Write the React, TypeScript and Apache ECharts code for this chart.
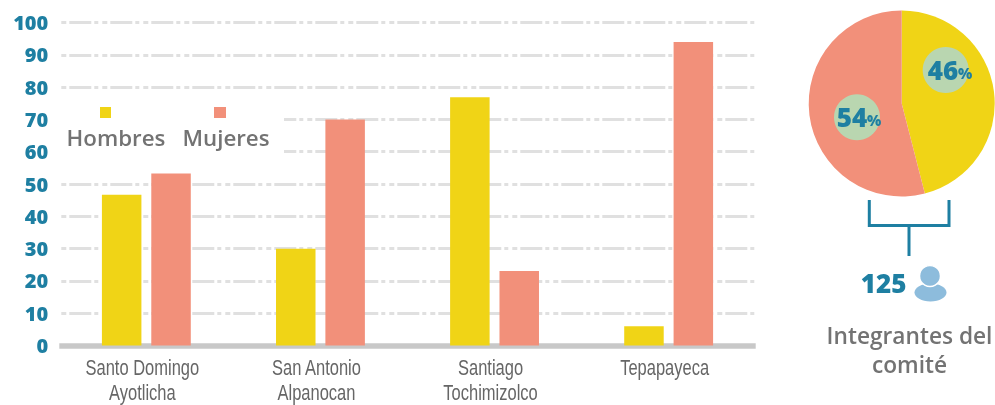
import React, { useEffect, useRef } from "react";
import * as echarts from "echarts";

const categories = ["Santo Domingo\nAyotlicha", "San Antonio\nAlpanocan", "Santiago\nTochimizolco", "Tepapayeca"];
const hombres = [46.7, 30, 76.9, 6];
const mujeres = [53.3, 70, 23.1, 94];
const pieShares = [46, 54];
const seriesNames = ["Hombres", "Mujeres"];
const total = "125";
const caption = ["Integrantes del", "comité"];

const YELLOW = "#f0d416";
const PINK = "#f2907a";
const TEAL = "#1e7fa2";
const GREY = "#737373";
const FONT = "'Open Sans', sans-serif";

export default function App() {
  const ref = useRef<HTMLDivElement>(null);
  useEffect(() => {
    const chart = echarts.init(ref.current!, undefined, { renderer: "svg" });
    const pctText = (v: number, x: number, y: number) => ({
      type: "text", x, y, z: 20,
      style: {
        text: `{a|${v}}{b|%}`, align: "center", verticalAlign: "middle",
        rich: {
          a: { fontFamily: FONT, fontSize: 26, fontWeight: 800, fill: TEAL, color: TEAL },
          b: { fontFamily: FONT, fontSize: 15, fontWeight: 800, fill: TEAL, color: TEAL, padding: [5, 0, 0, 0] },
        },
      },
    });
    const option: any = {
      animation: false,
      grid: { left: 59.3, right: 239.3, top: 22.5, bottom: 59.4, containLabel: false },
      xAxis: {
        type: "category", data: categories,
        axisTick: { show: false },
        axisLine: { lineStyle: { color: "#c8c8c8", width: 5.5, cap: "butt" } },
        axisLabel: { show: false },
      },
      yAxis: {
        type: "value", min: 0, max: 100, interval: 10,
        axisLine: { show: false }, axisTick: { show: false },
        axisLabel: { color: TEAL, fontFamily: FONT, fontWeight: 800, fontSize: 20, margin: 11 },
        splitLine: { lineStyle: { color: "#e0e0e0", width: 3, type: [5, 3, 22, 3, 4, 4], dashOffset: 39 } },
      },
      series: [
        { type: "bar", name: seriesNames[0], data: hombres, barWidth: 39.5, barGap: "25%", itemStyle: { color: YELLOW } },
        { type: "bar", name: seriesNames[1], data: mujeres, barWidth: 39.5, barGap: "25%", itemStyle: { color: PINK } },
        {
          type: "pie", center: [901.7, 103.5], radius: [0, 93], startAngle: 90, clockwise: true,
          silent: true, label: { show: false }, labelLine: { show: false },
          data: [
            { name: seriesNames[0], value: pieShares[0], itemStyle: { color: YELLOW } },
            { name: seriesNames[1], value: pieShares[1], itemStyle: { color: PINK } },
          ],
        },
      ],
      graphic: [
        { type: "rect", z: 1, shape: { x: 60, y: 100, width: 224, height: 60 }, style: { fill: "#fff" } },
        { type: "rect", z: 3, shape: { x: 100, y: 107, width: 11, height: 11 }, style: { fill: YELLOW } },
        { type: "rect", z: 3, shape: { x: 214, y: 107, width: 12, height: 11 }, style: { fill: PINK } },
        { type: "text", z: 3, x: 116, y: 137, style: { text: seriesNames[0], align: "center", verticalAlign: "middle", fontFamily: FONT, fontSize: 22.3, fontWeight: 600, fill: GREY } },
        { type: "text", z: 3, x: 226, y: 137, style: { text: seriesNames[1], align: "center", verticalAlign: "middle", fontFamily: FONT, fontSize: 22.3, fontWeight: 600, fill: GREY } },
        { type: "circle", z: 10, shape: { cx: 945.7, cy: 70, r: 23 }, style: { fill: "#b9d6b0" } },
        { type: "circle", z: 10, shape: { cx: 857, cy: 117.3, r: 23 }, style: { fill: "#b9d6b0" } },
        pctText(pieShares[0], 950, 70),
        pctText(pieShares[1], 859, 117),
        { type: "polyline", z: 5, shape: { points: [[869.3, 200], [869.3, 225.5], [949, 225.5], [949, 200]] }, style: { stroke: TEAL, lineWidth: 3, fill: "none" } },
        { type: "line", z: 5, shape: { x1: 909, y1: 225.5, x2: 909, y2: 256 }, style: { stroke: TEAL, lineWidth: 3 } },
        { type: "text", z: 5, x: 883.5, y: 283, style: { text: total, align: "center", verticalAlign: "middle", fontFamily: FONT, fontSize: 26, fontWeight: 800, fill: TEAL } },
        { type: "ellipse", z: 5, shape: { cx: 930.5, cy: 292.5, rx: 16, ry: 9 }, style: { fill: "#8dbcdc" } },
        { type: "circle", z: 6, shape: { cx: 930, cy: 276, r: 10.5 }, style: { fill: "#8dbcdc", stroke: "#fff", lineWidth: 1.5 } },
        { type: "text", z: 5, x: 909.5, y: 335, style: { text: caption[0], align: "center", verticalAlign: "middle", fontFamily: FONT, fontSize: 22.7, fontWeight: 600, fill: GREY } },
        { type: "text", z: 5, x: 909.5, y: 364, style: { text: caption[1], align: "center", verticalAlign: "middle", fontFamily: FONT, fontSize: 22.7, fontWeight: 600, fill: GREY } },
      ],
    };
    chart.setOption(option);
    // Narrow category labels: no condensed face is installed, so the axis's own positions are used with a horizontal squeeze.
    const labels = categories.map((c, i) => ({
      type: "text", z: 5,
      x: (chart.convertToPixel({ xAxisIndex: 0 }, i) as number) - 4,
      y: 355,
      scaleX: 0.75,
      style: {
        text: c, align: "center", verticalAlign: "top",
        fontFamily: "'Liberation Sans', sans-serif", fontSize: 22, lineHeight: 25, fill: "#666",
      },
    }));
    chart.setOption({ graphic: [...option.graphic, ...labels] });
    return () => chart.dispose();
  }, []);
  return <div ref={ref} style={{ position: "fixed", left: 0, top: 0, width: 995, height: 405 }} />;
}
